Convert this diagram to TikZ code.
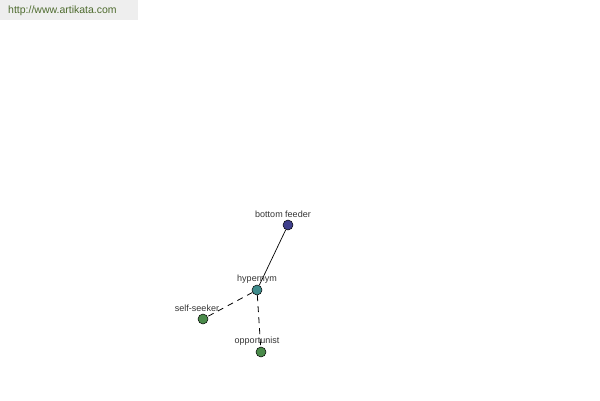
\documentclass[tikz,border=0pt]{standalone}
\usepackage{fontspec}
\setmainfont{Liberation Sans}
\definecolor{sitebg}{HTML}{EEEEEE}
\definecolor{sitefg}{HTML}{4E6B2E}
\definecolor{navynode}{HTML}{3F3F8C}
\definecolor{tealnode}{HTML}{3F8C8C}
\definecolor{greennode}{HTML}{4A8A4A}
\tikzset{
    wordnode/.style={circle, draw=black, line width=0.5pt, inner sep=0pt, minimum size=10pt},
    wordlabel/.style={inner sep=0pt, text=black!80, font=\fontsize{9}{9}\selectfont},
    hyperlink/.style={line width=0.8pt, dash pattern=on 6pt off 5pt}
}
\begin{document}
\begin{tikzpicture}[x=1pt, y=-1pt]
        \useasboundingbox (0,0) rectangle (600,400);
        \fill[sitebg] (0,0) rectangle (138,20);
        \node[anchor=west, inner sep=0pt, text=sitefg, font=\fontsize{10.5}{10.5}\selectfont] (site) at (8,11) {http://www.artikata.com};
        \node[wordnode, fill=navynode] (feeder) at (288,225) {};
        \node[wordnode, fill=tealnode] (hypernym) at (257,290) {};
        \node[wordnode, fill=greennode] (seeker) at (203,319) {};
        \node[wordnode, fill=greennode] (opportunist) at (261,352) {};
        \draw[line width=0.7pt] (feeder) -- (hypernym);
        \draw[hyperlink] (hypernym) -- (seeker);
        \draw[hyperlink] (hypernym) -- (opportunist);
        \node[wordlabel] (feederlabel) at (283,214) {bottom feeder};
        \node[wordlabel] (hypernymlabel) at (257,279) {hypernym};
        \node[wordlabel] (seekerlabel) at (197,308) {self-seeker};
        \node[wordlabel] (opportunistlabel) at (257,341) {opportunist};
    \end{tikzpicture}
\end{document}
